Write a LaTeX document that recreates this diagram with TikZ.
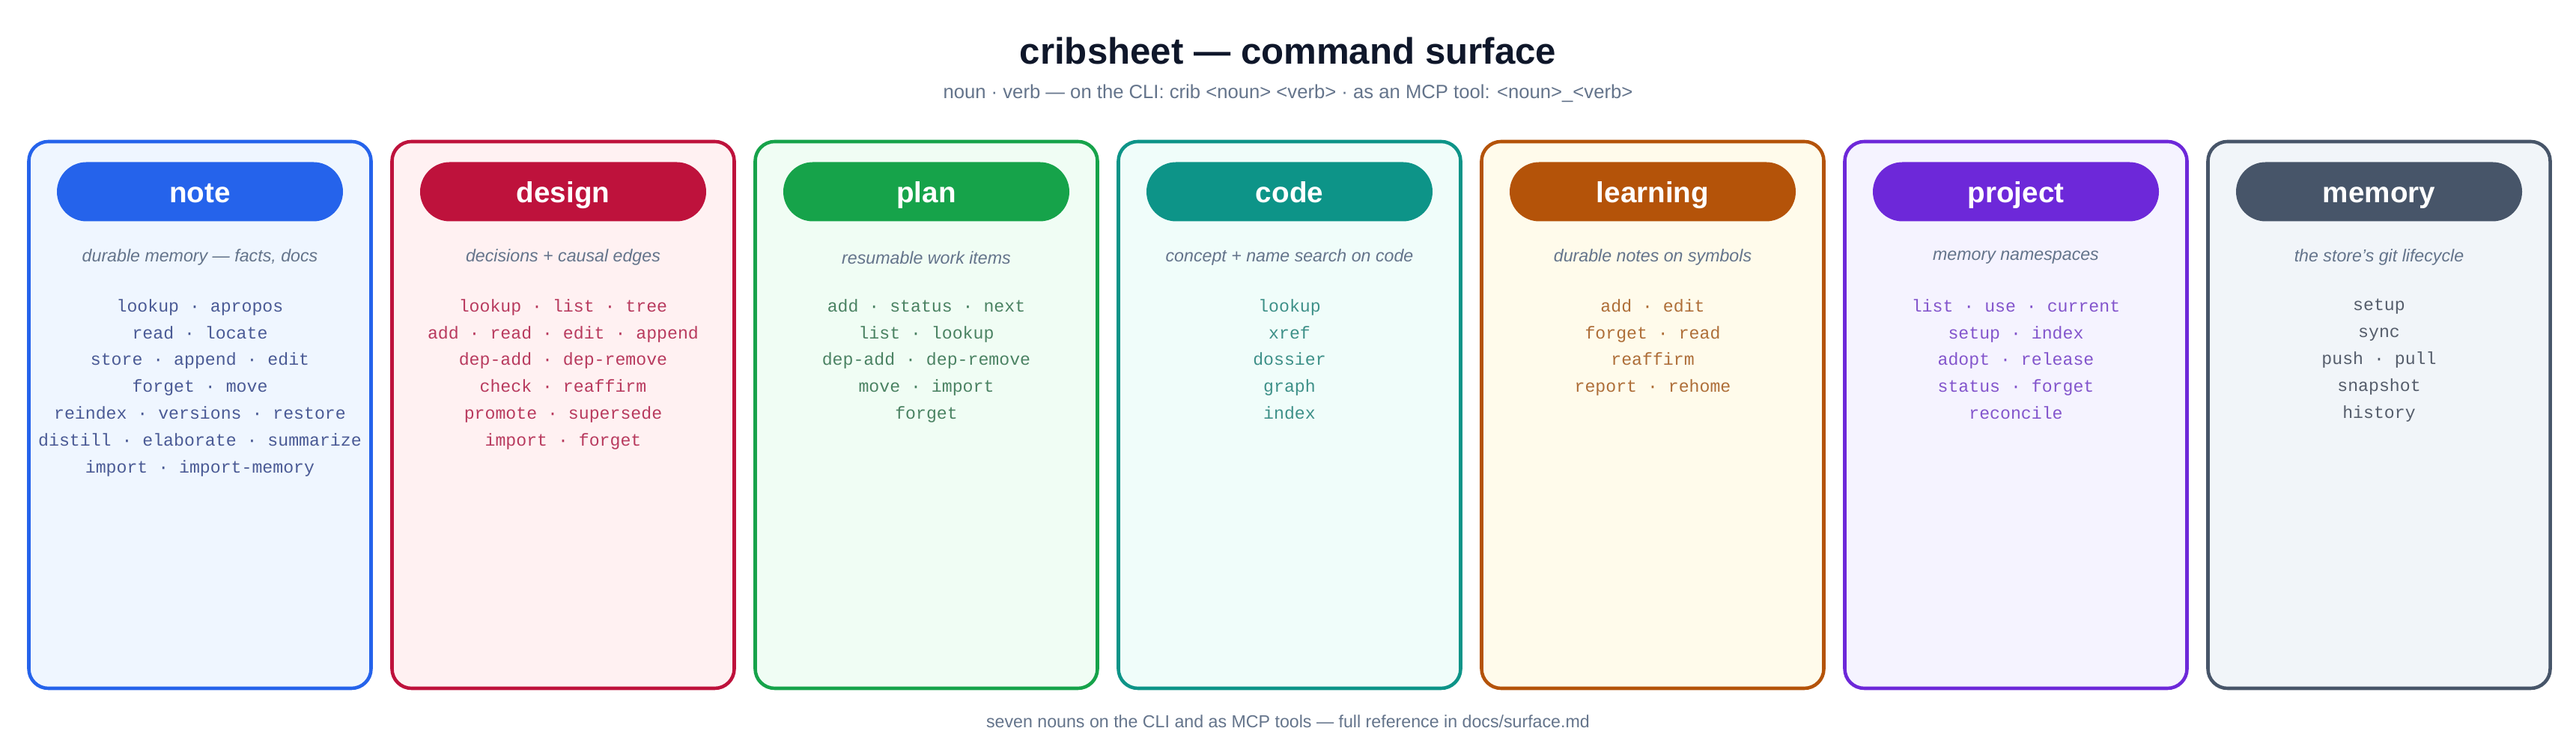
\documentclass[tikz,border=0pt]{standalone}
\usepackage{fontspec}
\setmainfont{Liberation Sans}
\setmonofont{Liberation Mono}
\usetikzlibrary{positioning}
\definecolor{muted}{HTML}{64748B}
\definecolor{ink}{HTML}{0F172A}
\definecolor{noteC}{HTML}{2563EB}\definecolor{noteF}{HTML}{EFF6FF}\definecolor{noteT}{HTML}{4A5A95}
\definecolor{designC}{HTML}{BE123C}\definecolor{designF}{HTML}{FFF1F2}\definecolor{designT}{HTML}{B83A5E}
\definecolor{planC}{HTML}{16A34A}\definecolor{planF}{HTML}{F0FDF4}\definecolor{planT}{HTML}{4A8262}
\definecolor{codeC}{HTML}{0D9488}\definecolor{codeF}{HTML}{F0FDFA}\definecolor{codeT}{HTML}{3D9088}
\definecolor{learnC}{HTML}{B45309}\definecolor{learnF}{HTML}{FFFBEB}\definecolor{learnT}{HTML}{AE6E38}
\definecolor{projC}{HTML}{6D28D9}\definecolor{projF}{HTML}{F5F3FF}\definecolor{projT}{HTML}{8355CC}
\definecolor{memC}{HTML}{475569}\definecolor{memF}{HTML}{F1F5F9}\definecolor{memT}{HTML}{555D6B}
\newcommand{\sep}{~·~}
% one card: index, name, colour prefix, description, verbs
\newcommand{\card}[5]{%
  \pgfmathsetmacro{\cx}{2.67+4.85*#1}
  \draw[card, draw=#3C, fill=#3F] (\cx-2.285,0.81) rectangle (\cx+2.285,8.11);
  \node[pill, fill=#3C] (#2) at (\cx,7.44) {#2};
  \node[desc] (#2-desc) at (\cx,6.56) {#4};
  \node[verbs, text=#3T] (#2-verbs) at (\cx,6.13) {#5};
}
\begin{document}
\begin{tikzpicture}[
    card/.style={line width=1.3pt, rounded corners=0.26cm},
    pill/.style={rounded corners=0.395cm, minimum width=3.82cm, minimum height=0.79cm,
      text height=1.8ex, text depth=0.25ex, inner sep=0pt,
      text=white, font=\fontsize{11}{13}\selectfont\bfseries},
    desc/.style={text=muted, font=\fontsize{6.6}{8}\selectfont\itshape},
    verbs/.style={anchor=north, align=center, font=\fontsize{6.6}{10.2}\selectfont\ttfamily}
  ]
  \useasboundingbox[fill=white] (0,0) rectangle (34.4,10);
  \node[text=ink, font=\fontsize{14}{16}\selectfont\bfseries] (title) at (17.2,9.32) {cribsheet — command surface};
  \node[text=muted, font=\fontsize{7.3}{9}\selectfont] (subtitle) at (17.2,8.75)
    {noun · verb — on the CLI: crib <noun> <verb> · as an MCP tool: <noun>\_<verb>};
  \card{0}{note}{note}{durable memory — facts, docs}
    {lookup\sep apropos\\ read\sep locate\\ store\sep append\sep edit\\ forget\sep move\\
     reindex\sep versions\sep restore\\ distill\sep elaborate\sep summarize\\ import\sep import-memory}
  \card{1}{design}{design}{decisions + causal edges}
    {lookup\sep list\sep tree\\ add\sep read\sep edit\sep append\\ dep-add\sep dep-remove\\
     check\sep reaffirm\\ promote\sep supersede\\ import\sep forget}
  \card{2}{plan}{plan}{resumable work items}
    {add\sep status\sep next\\ list\sep lookup\\ dep-add\sep dep-remove\\ move\sep import\\ forget}
  \card{3}{code}{code}{concept + name search on code}
    {lookup\\ xref\\ dossier\\ graph\\ index}
  \card{4}{learning}{learn}{durable notes on symbols}
    {add\sep edit\\ forget\sep read\\ reaffirm\\ report\sep rehome}
  \card{5}{project}{proj}{memory namespaces}
    {list\sep use\sep current\\ setup\sep index\\ adopt\sep release\\ status\sep forget\\ reconcile}
  \card{6}{memory}{mem}{the store’s git lifecycle}
    {setup\\ sync\\ push\sep pull\\ snapshot\\ history}
  \node[text=muted, font=\fontsize{6.6}{8}\selectfont] (footer) at (17.2,0.37)
    {seven nouns on the CLI and as MCP tools — full reference in docs/surface.md};
\end{tikzpicture}
\end{document}
